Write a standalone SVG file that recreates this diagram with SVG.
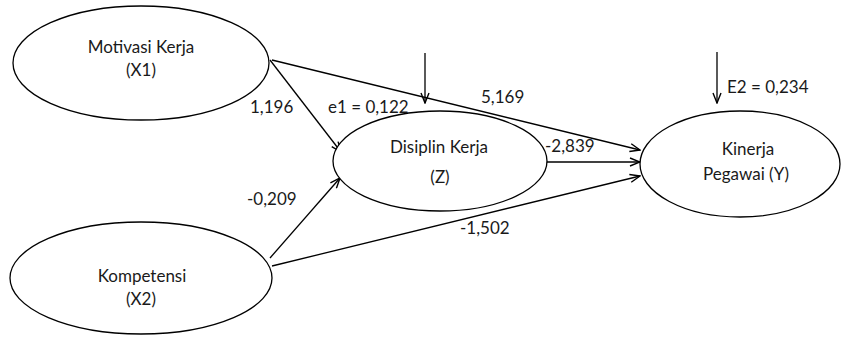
<svg xmlns="http://www.w3.org/2000/svg" width="843" height="338" viewBox="0 0 843 338">
  <style>
    .node ellipse { fill: #fff; stroke: #000; stroke-width: 1.3; }
    .edges line { stroke: #000; stroke-width: 1.3; marker-end: url(#arrow); }
    text { font-family: Lato, "Open Sans", "Liberation Sans", sans-serif; font-size: 17px; fill: #1a1a1a; }
    .c { text-anchor: middle; }
  </style>
  <defs>
    <marker id="arrow" markerWidth="12" markerHeight="10" refX="11" refY="5" orient="auto" markerUnits="userSpaceOnUse">
      <path d="M1,1 L11,5 L1,9" fill="none" stroke="#000" stroke-width="1.4"/>
    </marker>
  </defs>
  <rect width="843" height="338" fill="#fff"/>

  <g class="edges">
    <line x1="270" y1="60" x2="341" y2="152"/>
    <line x1="272" y1="60" x2="640" y2="150"/>
    <line x1="546" y1="162" x2="640" y2="162"/>
    <line x1="270" y1="258" x2="340" y2="178"/>
    <line x1="272" y1="266" x2="640" y2="176"/>
    <line x1="425" y1="53" x2="425" y2="103"/>
    <line x1="717" y1="52" x2="717" y2="103"/>
  </g>

  <g id="x1" class="node">
    <ellipse cx="141" cy="63" rx="128" ry="57"/>
    <text class="c" x="141" y="53">Motivasi Kerja</text>
    <text class="c" x="141" y="76">(X1)</text>
  </g>
  <g id="x2" class="node">
    <ellipse cx="141" cy="278" rx="131" ry="56"/>
    <text class="c" x="142" y="282">Kompetensi</text>
    <text class="c" x="141" y="305">(X2)</text>
  </g>
  <g id="z" class="node">
    <ellipse cx="440" cy="161" rx="107" ry="50"/>
    <text class="c" x="439" y="153">Disiplin Kerja</text>
    <text class="c" x="440" y="183">(Z)</text>
  </g>
  <g id="y" class="node">
    <ellipse cx="740" cy="164" rx="100" ry="53"/>
    <text class="c" x="748" y="155">Kinerja</text>
    <text class="c" x="746" y="180">Pegawai (Y)</text>
  </g>

  <g id="labels">
    <text x="250" y="113">1,196</text>
    <text x="328" y="113">e1 = 0,122</text>
    <text x="481" y="103">5,169</text>
    <text x="545" y="152">-2,839</text>
    <text x="727" y="93">E2 = 0,234</text>
    <text x="247" y="205">-0,209</text>
    <text x="460" y="234">-1,502</text>
  </g>
</svg>
